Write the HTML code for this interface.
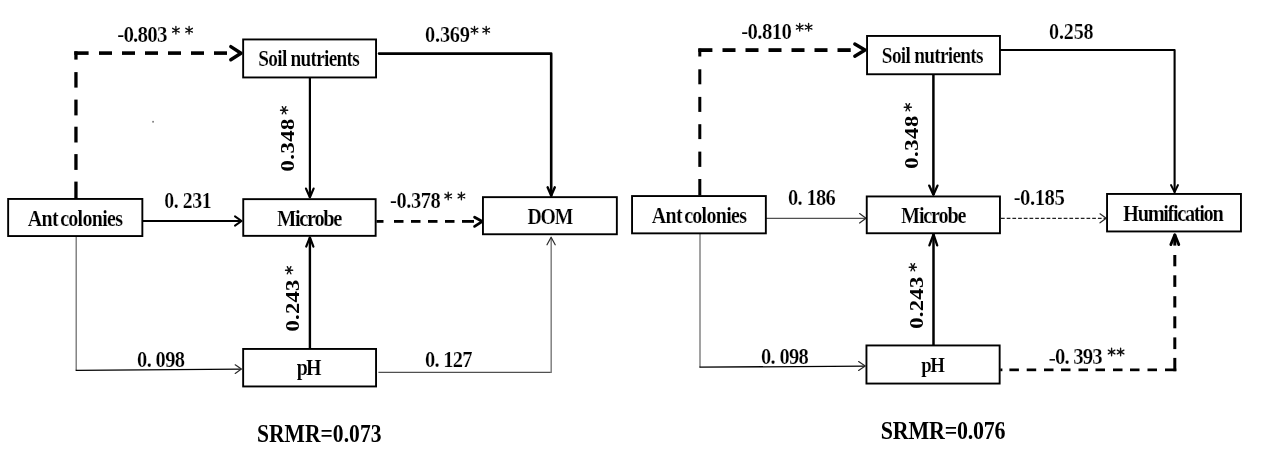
<!DOCTYPE html>
<html><head><meta charset="utf-8"><style>
html,body{margin:0;padding:0;background:#fff;width:1269px;height:469px;overflow:hidden}
svg{display:block;font-family:"Liberation Serif",serif;will-change:transform}
</style></head><body>
<svg width="1269" height="469" viewBox="0 0 1269 469">
<rect x="0" y="0" width="1269" height="469" fill="#fff"/>
<line x1="76.2" y1="236" x2="76.2" y2="370.3" stroke="#707070" stroke-width="1.3" stroke-linecap="butt" />
<line x1="75.6" y1="370.3" x2="241.2" y2="369.1" stroke="#000" stroke-width="1.3" stroke-linecap="butt" />
<path d="M235.20,364.80 L241.40,369.10 L235.20,373.40" fill="none" stroke="#2a2a2a" stroke-width="1.2" stroke-linecap="round" stroke-linejoin="round" />
<line x1="378.4" y1="372.4" x2="551.2" y2="372.4" stroke="#505050" stroke-width="1.3" stroke-linecap="butt" />
<line x1="551.2" y1="373" x2="551.2" y2="237.5" stroke="#808080" stroke-width="1.5" stroke-linecap="butt" />
<path d="M547.00,244.80 L551.10,237.20 L555.20,244.80" fill="none" stroke="#2a2a2a" stroke-width="1.2" stroke-linecap="round" stroke-linejoin="round" />
<rect x="74.30" y="51.30" width="3.30" height="8.30" fill="#000"/>
<rect x="74.30" y="72.10" width="3.30" height="15.50" fill="#000"/>
<rect x="74.30" y="99.60" width="3.30" height="15.80" fill="#000"/>
<rect x="74.30" y="126.70" width="3.30" height="15.80" fill="#000"/>
<rect x="74.30" y="154.10" width="3.30" height="15.80" fill="#000"/>
<rect x="74.30" y="181.60" width="3.30" height="16.90" fill="#000"/>
<rect x="74.30" y="51.30" width="14.30" height="3.60" fill="#000"/>
<rect x="99.00" y="51.30" width="13.00" height="3.60" fill="#000"/>
<rect x="122.00" y="51.30" width="13.00" height="3.60" fill="#000"/>
<rect x="145.00" y="51.30" width="13.00" height="3.60" fill="#000"/>
<rect x="168.00" y="51.30" width="13.00" height="3.60" fill="#000"/>
<rect x="191.00" y="51.30" width="13.00" height="3.60" fill="#000"/>
<rect x="214.00" y="51.30" width="13.00" height="3.60" fill="#000"/>
<path d="M230.80,46.60 L241.00,53.20 L230.80,59.80" fill="none" stroke="#000" stroke-width="3.4" stroke-linecap="round" stroke-linejoin="round" />
<path d="M379,53.6 H551.2 V195.5" fill="none" stroke="#000" stroke-width="2.6" stroke-linecap="round" stroke-linejoin="round" />
<path d="M547.60,187.30 L551.20,195.60 L554.80,187.30" fill="none" stroke="#000" stroke-width="2.4" stroke-linecap="round" stroke-linejoin="round" />
<line x1="309.9" y1="77.5" x2="309.9" y2="197.5" stroke="#000" stroke-width="2.2" stroke-linecap="butt" />
<path d="M306.00,188.60 L309.90,197.20 L313.60,188.60" fill="none" stroke="#000" stroke-width="2.2" stroke-linecap="round" stroke-linejoin="round" />
<line x1="143" y1="221" x2="241" y2="221" stroke="#000" stroke-width="2.0" stroke-linecap="butt" />
<path d="M235.00,216.40 L241.60,221.00 L235.00,225.60" fill="none" stroke="#000" stroke-width="2.0" stroke-linecap="round" stroke-linejoin="round" />
<rect x="376.50" y="220.00" width="7.00" height="2.80" fill="#000"/>
<rect x="394.00" y="220.00" width="9.50" height="2.80" fill="#000"/>
<rect x="411.00" y="220.00" width="9.50" height="2.80" fill="#000"/>
<rect x="428.00" y="220.00" width="9.50" height="2.80" fill="#000"/>
<rect x="445.00" y="220.00" width="9.50" height="2.80" fill="#000"/>
<rect x="462.00" y="220.00" width="12.00" height="2.80" fill="#000"/>
<path d="M474.60,217.20 L482.40,221.40 L474.60,226.40" fill="none" stroke="#000" stroke-width="2.8" stroke-linecap="round" stroke-linejoin="round" />
<line x1="309.9" y1="348" x2="309.9" y2="237.5" stroke="#000" stroke-width="2.4" stroke-linecap="butt" />
<path d="M306.20,246.60 L309.90,237.40 L313.40,246.60" fill="none" stroke="#000" stroke-width="2.2" stroke-linecap="round" stroke-linejoin="round" />
<rect x="243.15" y="39.45" width="132.90" height="38.00" fill="#fff" stroke="#000" stroke-width="1.9"/>
<rect x="8.15" y="198.95" width="134.20" height="37.10" fill="#fff" stroke="#000" stroke-width="1.9"/>
<rect x="243.25" y="199.15" width="132.40" height="36.70" fill="#fff" stroke="#000" stroke-width="1.9"/>
<rect x="482.95" y="197.15" width="133.90" height="37.10" fill="#fff" stroke="#000" stroke-width="1.9"/>
<rect x="243.15" y="348.95" width="132.90" height="37.50" fill="#fff" stroke="#000" stroke-width="1.9"/>
<rect x="152.4" y="120.9" width="1.3" height="1.7" fill="#555"/>
<line x1="700" y1="233" x2="700" y2="367.2" stroke="#707070" stroke-width="1.3" stroke-linecap="butt" />
<line x1="699.4" y1="367.2" x2="865" y2="366.1" stroke="#000" stroke-width="1.3" stroke-linecap="butt" />
<path d="M858.60,361.60 L865.20,366.00 L858.60,370.40" fill="none" stroke="#2a2a2a" stroke-width="1.2" stroke-linecap="round" stroke-linejoin="round" />
<line x1="766" y1="218.4" x2="865.5" y2="218.4" stroke="#505050" stroke-width="1.3" stroke-linecap="butt" />
<path d="M859.60,213.60 L866.00,218.30 L859.60,223.00" fill="none" stroke="#2a2a2a" stroke-width="1.2" stroke-linecap="round" stroke-linejoin="round" />
<line x1="1001" y1="218.3" x2="1105.5" y2="218.3" stroke="#222" stroke-width="1.2" stroke-linecap="butt" stroke-dasharray="3.7 2"/>
<path d="M1100.00,213.80 L1106.20,218.20 L1100.00,222.80" fill="none" stroke="#2a2a2a" stroke-width="1.2" stroke-linecap="round" stroke-linejoin="round" />
<rect x="698.30" y="48.70" width="3.00" height="7.80" fill="#000"/>
<rect x="698.30" y="69.30" width="3.00" height="15.00" fill="#000"/>
<rect x="698.30" y="96.90" width="3.00" height="15.00" fill="#000"/>
<rect x="698.30" y="124.20" width="3.00" height="14.90" fill="#000"/>
<rect x="698.30" y="151.60" width="3.00" height="15.30" fill="#000"/>
<rect x="698.30" y="179.00" width="3.00" height="16.50" fill="#000"/>
<rect x="698.30" y="48.20" width="14.10" height="3.80" fill="#000"/>
<rect x="722.50" y="48.20" width="13.00" height="3.80" fill="#000"/>
<rect x="745.50" y="48.20" width="13.00" height="3.80" fill="#000"/>
<rect x="768.50" y="48.20" width="13.00" height="3.80" fill="#000"/>
<rect x="791.50" y="48.20" width="13.00" height="3.80" fill="#000"/>
<rect x="814.50" y="48.20" width="13.00" height="3.80" fill="#000"/>
<rect x="837.50" y="48.20" width="13.20" height="3.80" fill="#000"/>
<path d="M854.80,44.00 L865.00,50.00 L854.80,56.20" fill="none" stroke="#000" stroke-width="3.4" stroke-linecap="round" stroke-linejoin="round" />
<path d="M1000.5,50 H1174.6 V192" fill="none" stroke="#000" stroke-width="2.1" stroke-linecap="round" stroke-linejoin="round" />
<path d="M1171.00,185.00 L1174.60,192.20 L1178.00,185.00" fill="none" stroke="#000" stroke-width="1.9" stroke-linecap="round" stroke-linejoin="round" />
<line x1="933.4" y1="74.5" x2="933.4" y2="195" stroke="#000" stroke-width="2.5" stroke-linecap="butt" />
<path d="M929.20,185.60 L933.40,194.80 L937.50,185.60" fill="none" stroke="#000" stroke-width="2.3" stroke-linecap="round" stroke-linejoin="round" />
<line x1="933.5" y1="345" x2="933.5" y2="234" stroke="#000" stroke-width="2.5" stroke-linecap="butt" />
<path d="M929.40,245.40 L933.50,234.40 L937.20,245.40" fill="none" stroke="#000" stroke-width="2.3" stroke-linecap="round" stroke-linejoin="round" />
<rect x="1000.30" y="368.50" width="2.10" height="2.70" fill="#000"/>
<rect x="1009.40" y="368.50" width="9.50" height="2.70" fill="#000"/>
<rect x="1026.70" y="368.50" width="9.50" height="2.70" fill="#000"/>
<rect x="1044.00" y="368.50" width="9.50" height="2.70" fill="#000"/>
<rect x="1061.00" y="368.50" width="9.50" height="2.70" fill="#000"/>
<rect x="1078.50" y="368.50" width="9.50" height="2.70" fill="#000"/>
<rect x="1095.50" y="368.50" width="9.50" height="2.70" fill="#000"/>
<rect x="1113.00" y="368.50" width="9.50" height="2.70" fill="#000"/>
<rect x="1130.00" y="368.50" width="9.50" height="2.70" fill="#000"/>
<rect x="1147.50" y="368.50" width="9.50" height="2.70" fill="#000"/>
<rect x="1165.00" y="368.50" width="11.30" height="2.70" fill="#000"/>
<rect x="1173.30" y="234.50" width="3.00" height="11.10" fill="#000"/>
<rect x="1173.30" y="255.00" width="3.00" height="11.30" fill="#000"/>
<rect x="1173.30" y="275.30" width="3.00" height="11.60" fill="#000"/>
<rect x="1173.30" y="296.20" width="3.00" height="11.30" fill="#000"/>
<rect x="1173.30" y="316.30" width="3.00" height="12.00" fill="#000"/>
<rect x="1173.30" y="337.40" width="3.00" height="11.70" fill="#000"/>
<rect x="1173.30" y="357.90" width="3.00" height="13.30" fill="#000"/>
<path d="M1170.80,244.60 L1174.80,234.80 L1178.80,244.60" fill="none" stroke="#000" stroke-width="2.8" stroke-linecap="round" stroke-linejoin="round" />
<rect x="867.05" y="35.95" width="132.90" height="38.30" fill="#fff" stroke="#000" stroke-width="1.9"/>
<rect x="632.05" y="196.05" width="133.80" height="37.30" fill="#fff" stroke="#000" stroke-width="1.9"/>
<rect x="866.75" y="196.45" width="133.20" height="36.80" fill="#fff" stroke="#000" stroke-width="1.9"/>
<rect x="1107.05" y="193.95" width="133.90" height="37.50" fill="#fff" stroke="#000" stroke-width="1.9"/>
<rect x="866.45" y="345.45" width="133.20" height="38.10" fill="#fff" stroke="#000" stroke-width="1.9"/>
<g font-family="Liberation Serif" font-weight="bold" font-size="20" fill="#000">
<text transform="matrix(1.05180,0,0,1.19523,117.160,42.079)" letter-spacing="-0.741" stroke="#fff" stroke-width="0.2" xml:space="preserve">-0.803</text>
<text transform="matrix(0.96373,0,0,1.12061,258.368,66.409)" letter-spacing="-0.754" stroke="#fff" stroke-width="0.15" xml:space="preserve">Soil nutrients</text>
<text transform="matrix(1.01872,0,0,1.15764,425.085,41.583)" letter-spacing="-0.224" stroke="#fff" stroke-width="0.2" xml:space="preserve">0.369</text>
<text transform="matrix(0,-1.13290,0.96296,0,293.807,171.406)" letter-spacing="0.379" xml:space="preserve">0.348</text>
<text transform="matrix(0.99226,0,0,1.12757,164.308,207.686)" letter-spacing="-0.470" stroke="#fff" stroke-width="0.2" xml:space="preserve">0. 231</text>
<text transform="matrix(1.00265,0,0,1.16587,27.725,226.203)" letter-spacing="-0.719" word-spacing="-1.995" stroke="#fff" stroke-width="0.15" xml:space="preserve">Ant colonies</text>
<text transform="matrix(1.02383,0,0,1.19050,277.117,226.088)" letter-spacing="-1.341" stroke="#fff" stroke-width="0.15" xml:space="preserve">Microbe</text>
<text transform="matrix(1.02534,0,0,1.16516,389.981,207.682)" letter-spacing="-0.404" stroke="#fff" stroke-width="0.2" xml:space="preserve">-0.378</text>
<text transform="matrix(0.98937,0,0,1.15043,527.531,223.885)" letter-spacing="-1.235" stroke="#fff" stroke-width="0.15" xml:space="preserve">DOM</text>
<text transform="matrix(0,-1.13290,0.96296,0,299.007,331.406)" letter-spacing="0.159" xml:space="preserve">0.243</text>
<text transform="matrix(1.02534,0,0,1.16516,137.079,366.682)" letter-spacing="-0.649" stroke="#fff" stroke-width="0.2" xml:space="preserve">0. 098</text>
<text transform="matrix(0.99601,0,0,1.15815,296.727,375.286)" letter-spacing="-1.856" stroke="#fff" stroke-width="0.15" xml:space="preserve">pH</text>
<text transform="matrix(1.02534,0,0,1.16516,425.079,366.682)" letter-spacing="-0.728" stroke="#fff" stroke-width="0.2" xml:space="preserve">0. 127</text>
<text transform="matrix(1.07836,0,0,1.26866,257.014,441.546)" letter-spacing="0.021" xml:space="preserve">SRMR=0.073</text>
<text transform="matrix(1.03857,0,0,1.18019,741.171,38.880)" letter-spacing="-0.565" stroke="#fff" stroke-width="0.2" xml:space="preserve">-0.810</text>
<text transform="matrix(0.96697,0,0,1.12439,881.865,63.459)" letter-spacing="-0.757" stroke="#fff" stroke-width="0.15" xml:space="preserve">Soil nutrients</text>
<text transform="matrix(1.00549,0,0,1.14261,1049.097,38.884)" letter-spacing="-0.184" stroke="#fff" stroke-width="0.2" xml:space="preserve">0.258</text>
<text transform="matrix(0,-1.13290,0.96296,0,917.807,168.706)" letter-spacing="0.446" xml:space="preserve">0.348</text>
<text transform="matrix(1.00265,0,0,1.16587,651.725,223.203)" letter-spacing="-0.719" word-spacing="-1.995" stroke="#fff" stroke-width="0.15" xml:space="preserve">Ant colonies</text>
<text transform="matrix(1.02534,0,0,1.16516,788.079,204.682)" letter-spacing="-0.708" stroke="#fff" stroke-width="0.2" xml:space="preserve">0. 186</text>
<text transform="matrix(1.01045,0,0,1.17494,901.122,223.087)" letter-spacing="-1.203" stroke="#fff" stroke-width="0.15" xml:space="preserve">Microbe</text>
<text transform="matrix(1.03857,0,0,1.18019,1013.671,204.880)" letter-spacing="-0.468" stroke="#fff" stroke-width="0.2" xml:space="preserve">-0.185</text>
<text transform="matrix(1.02257,0,0,1.18903,1123.117,220.888)" letter-spacing="-1.342" stroke="#fff" stroke-width="0.15" xml:space="preserve">Humification</text>
<text transform="matrix(0,-1.13290,0.96296,0,922.807,328.706)" letter-spacing="0.225" xml:space="preserve">0.243</text>
<text transform="matrix(1.02534,0,0,1.16516,761.079,363.682)" letter-spacing="-0.688" stroke="#fff" stroke-width="0.2" xml:space="preserve">0. 098</text>
<text transform="matrix(0.94289,0,0,1.09638,921.347,372.181)" letter-spacing="-1.565" stroke="#fff" stroke-width="0.15" xml:space="preserve">pH</text>
<text transform="matrix(1.03857,0,0,1.18019,1055.067,363.680)" letter-spacing="-0.841" stroke="#fff" stroke-width="0.2" xml:space="preserve">0. 393</text>
<text transform="matrix(1.09739,0,0,1.29104,880.793,438.542)" letter-spacing="-0.168" xml:space="preserve">SRMR=0.076</text>
</g>
<path d="M175.90,26.40 L175.90,34.00 M172.60,28.30 L179.20,32.10 M172.60,32.10 L179.20,28.30" stroke="#111" stroke-width="1.35" stroke-linecap="round" fill="none"/>
<circle cx="175.90" cy="30.20" r="1.2" fill="#111"/>
<path d="M189.10,26.40 L189.10,34.00 M185.80,28.30 L192.40,32.10 M185.80,32.10 L192.40,28.30" stroke="#111" stroke-width="1.35" stroke-linecap="round" fill="none"/>
<circle cx="189.10" cy="30.20" r="1.2" fill="#111"/>
<path d="M474.50,26.40 L474.50,34.00 M471.20,28.30 L477.80,32.10 M471.20,32.10 L477.80,28.30" stroke="#111" stroke-width="1.35" stroke-linecap="round" fill="none"/>
<circle cx="474.50" cy="30.20" r="1.2" fill="#111"/>
<path d="M486.20,26.40 L486.20,34.00 M482.90,28.30 L489.50,32.10 M482.90,32.10 L489.50,28.30" stroke="#111" stroke-width="1.35" stroke-linecap="round" fill="none"/>
<circle cx="486.20" cy="30.20" r="1.2" fill="#111"/>
<path d="M448.20,192.20 L448.20,199.80 M444.90,194.10 L451.50,197.90 M444.90,197.90 L451.50,194.10" stroke="#111" stroke-width="1.35" stroke-linecap="round" fill="none"/>
<circle cx="448.20" cy="196.00" r="1.2" fill="#111"/>
<path d="M461.40,192.20 L461.40,199.80 M458.10,194.10 L464.70,197.90 M458.10,197.90 L464.70,194.10" stroke="#111" stroke-width="1.35" stroke-linecap="round" fill="none"/>
<circle cx="461.40" cy="196.00" r="1.2" fill="#111"/>
<path d="M799.70,23.40 L799.70,31.00 M796.40,25.30 L803.00,29.10 M796.40,29.10 L803.00,25.30" stroke="#111" stroke-width="1.35" stroke-linecap="round" fill="none"/>
<circle cx="799.70" cy="27.20" r="1.2" fill="#111"/>
<path d="M808.60,23.40 L808.60,31.00 M805.30,25.30 L811.90,29.10 M805.30,29.10 L811.90,25.30" stroke="#111" stroke-width="1.35" stroke-linecap="round" fill="none"/>
<circle cx="808.60" cy="27.20" r="1.2" fill="#111"/>
<path d="M1111.60,348.20 L1111.60,355.80 M1108.30,350.10 L1114.90,353.90 M1108.30,353.90 L1114.90,350.10" stroke="#111" stroke-width="1.35" stroke-linecap="round" fill="none"/>
<circle cx="1111.60" cy="352.00" r="1.2" fill="#111"/>
<path d="M1120.60,348.20 L1120.60,355.80 M1117.30,350.10 L1123.90,353.90 M1117.30,353.90 L1123.90,350.10" stroke="#111" stroke-width="1.35" stroke-linecap="round" fill="none"/>
<circle cx="1120.60" cy="352.00" r="1.2" fill="#111"/>
<path d="M280.50,110.20 L287.70,110.20 M282.30,106.60 L285.90,113.80 M282.30,113.80 L285.90,106.60" stroke="#111" stroke-width="1.35" stroke-linecap="round" fill="none"/>
<circle cx="284.10" cy="110.20" r="1.2" fill="#111"/>
<path d="M285.50,270.20 L292.70,270.20 M287.30,266.60 L290.90,273.80 M287.30,273.80 L290.90,266.60" stroke="#111" stroke-width="1.35" stroke-linecap="round" fill="none"/>
<circle cx="289.10" cy="270.20" r="1.2" fill="#111"/>
<path d="M904.20,107.20 L911.40,107.20 M906.00,103.60 L909.60,110.80 M906.00,110.80 L909.60,103.60" stroke="#111" stroke-width="1.35" stroke-linecap="round" fill="none"/>
<circle cx="907.80" cy="107.20" r="1.2" fill="#111"/>
<path d="M909.20,267.20 L916.40,267.20 M911.00,263.60 L914.60,270.80 M911.00,270.80 L914.60,263.60" stroke="#111" stroke-width="1.35" stroke-linecap="round" fill="none"/>
<circle cx="912.80" cy="267.20" r="1.2" fill="#111"/>
<rect x="1049.5" y="359" width="5.5" height="1.6" fill="#111"/>
</svg></body></html>
